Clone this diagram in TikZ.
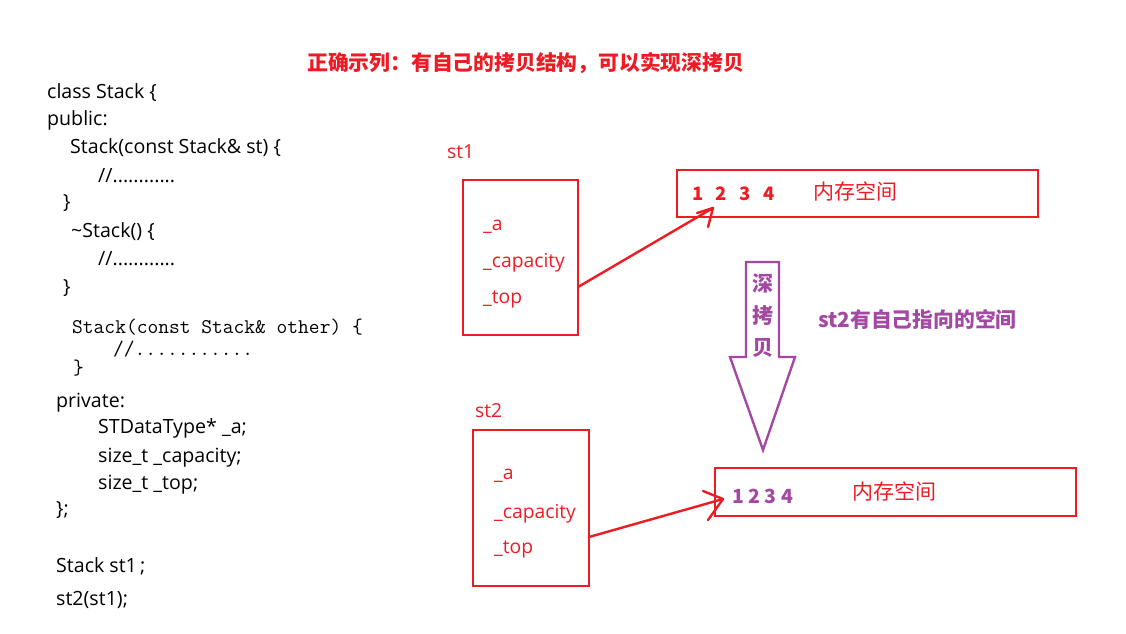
\documentclass[tikz,border=0pt]{standalone}
\usepackage{fontspec}
\setmainfont{Open Sans}
\newfontfamily\cjk{Noto Sans CJK SC}
\definecolor{pred}{HTML}{ED1C24}
\definecolor{ppur}{HTML}{A349A4}
\begin{document}
\begin{tikzpicture}[x=1pt,y=-1pt,
  code/.style={anchor=base west, inner sep=0pt, text=black, font=\fontsize{19.6}{21}\selectfont},
  mono/.style={anchor=base west, inner sep=0pt, text=black, font=\ttfamily\fontsize{20.9}{22}\selectfont},
  redtxt/.style={anchor=base west, inner sep=0pt, text=pred, font=\fontsize{19.3}{21}\selectfont},
  redbox/.style={draw=pred, line width=2.6pt, inner sep=0pt},
  redline/.style={draw=pred, line width=2.4pt, line cap=round},
  memtxt/.style={anchor=base west, inner sep=0pt, text=pred, font=\cjk\fontsize{21}{24}\selectfont},
]
\useasboundingbox[fill=white] (0,0) rectangle (1126,633);

% title
\node[anchor=base west, inner sep=0pt, text=pred, font=\cjk\bfseries\fontsize{20.8}{24}\selectfont] (title) at (307,70) {正确示列：有自己的拷贝结构，可以实现深拷贝};

% code
\node[code] (c1) at (47,98) {class Stack \{};
\node[code] (c2) at (47,125) {public:};
\node[code] (c3) at (70,153) {Stack(const Stack\& st) \{};
\node[code] (c4) at (98,182) {//............};
\node[code] (c5) at (63,208) {\}};
\node[code] (c6) at (71,237) {\textasciitilde Stack() \{};
\node[code] (c7) at (98,265) {//............};
\node[code] (c8) at (63,293) {\}};
\node[mono] (c9) at (72,333) {Stack(const Stack\& other) \{};
\node[mono] (c10) at (113,355) {//...........};
\node[mono] (c11) at (73,374) {\}};
\node[code] (c12) at (56,407) {private:};
\node[code] (c13) at (98,433) {STDataType* \_a;};
\node[code] (c14) at (98,462) {size\_t \_capacity;};
\node[code] (c15) at (98,489) {size\_t \_top;};
\node[code] (c16) at (56,515) {\};};
\node[code] (c17) at (56,572) {Stack st1\,;};
\node[code] (c18) at (56,605) {st2(st1);};

% st1
\node[redtxt] (l1) at (447,158) {st1};
\node[redbox, minimum width=115, minimum height=155] (st1) at (520.5,257.5) {};
\node[redtxt] (a1) at (483,230) {\_a};
\node[redtxt] (b1) at (483,267) {\_capacity};
\node[redtxt] (t1) at (483,303) {\_top};

% memory 1
\node[redbox, minimum width=361, minimum height=47] (m1) at (857.5,193.5) {};
\node[anchor=base west, inner sep=0pt, text=pred, font=\cjk\bfseries\fontsize{18.5}{20}\selectfont] (n1) at (692,200) {1\hspace{12.5pt}2\hspace{12.5pt}3\hspace{12.5pt}4};
\node[memtxt] (s1) at (813,199) {内存空间};

% arrow 1
\coordinate (p1s) at (578,287);
\coordinate (p1) at (713,208);
\draw[redline] (p1s) -- (p1);
\draw[redline] (p1) -- ++(-16,5);
\draw[redline] (p1) -- ++(-5,19);

% st2
\node[redtxt] (l2) at (475,417) {st2};
\node[redbox, minimum width=116, minimum height=156] (st2) at (531,508) {};
\node[redtxt] (a2) at (494,479) {\_a};
\node[redtxt] (b2) at (494,518) {\_capacity};
\node[redtxt] (t2) at (494,553) {\_top};

% memory 2
\node[redbox, minimum width=361, minimum height=48] (m2) at (895.5,492) {};
\node[anchor=base west, inner sep=0pt, text=ppur, font=\cjk\bfseries\fontsize{19.5}{22}\selectfont] (n2) at (732,503) {1 2 3 4};
\node[memtxt] (s2) at (852,499) {内存空间};

% arrow 2
\coordinate (p2s) at (589,537);
\coordinate (p2) at (723,499);
\draw[redline] (p2s) -- (p2);
\draw[redline] (p2) -- ++(-20,-8);
\draw[redline] (p2) -- ++(-15,21);

% deep copy arrow
\draw[ppur, line width=2.4pt, line join=miter] (746,262) -- (779,262) -- (779,357) -- (795,357) -- (763,450) -- (730,357) -- (746,357) -- cycle;
\node[inner sep=0pt, text=ppur, font=\cjk\bfseries\fontsize{21}{32}\selectfont, align=center] (deep) at (763,316) {深\\拷\\贝};
\node[anchor=base west, inner sep=0pt, text=ppur, font=\cjk\bfseries\fontsize{20.8}{24}\selectfont] (own) at (818,327) {st2有自己指向的空间};
\end{tikzpicture}
\end{document}
